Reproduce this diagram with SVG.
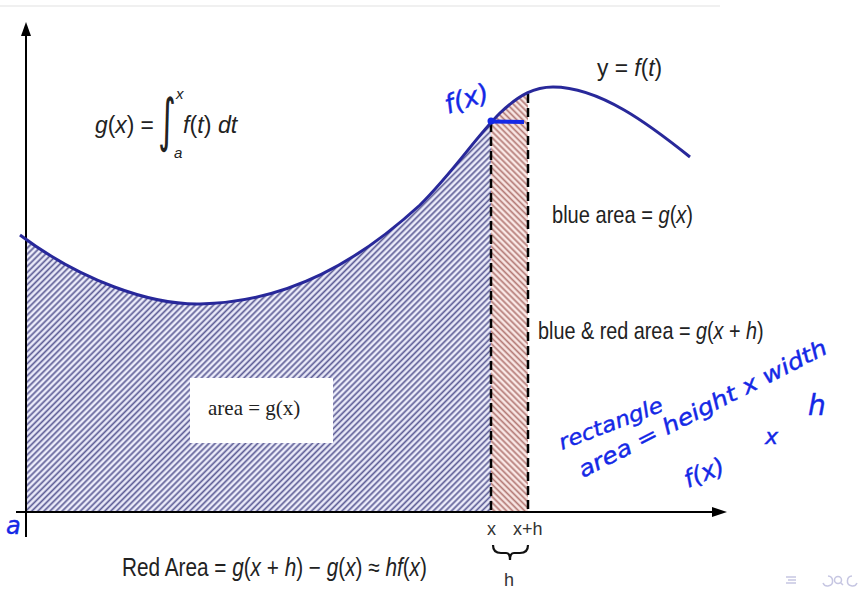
<svg xmlns="http://www.w3.org/2000/svg" width="868" height="589" viewBox="0 0 868 589">
<style>
.m{font-family:"Liberation Sans",Arial,sans-serif;fill:#222}
.i{font-style:italic}
.hw{font-family:"DejaVu Sans","Liberation Sans",sans-serif;font-style:italic;fill:#1428e6;stroke:#1428e6;stroke-width:0.4}
.ax{stroke:#000;stroke-width:2;fill:none}
.dash{stroke:#000;stroke-width:2.5;stroke-dasharray:9 5;fill:none}
.nav{stroke:#c6c6e2;stroke-width:1.5;fill:none}
</style>
<defs>
<pattern id="hb" width="4.3" height="10" patternUnits="userSpaceOnUse" patternTransform="rotate(45)">
<rect width="4.3" height="10" fill="#ececfa"/>
<line x1="1.2" y1="0" x2="1.2" y2="10" stroke="#5e5e96" stroke-width="1.7"/>
</pattern>
<pattern id="hr" width="4.3" height="10" patternUnits="userSpaceOnUse" patternTransform="rotate(-45)">
<rect width="4.3" height="10" fill="#f9e8e6"/>
<line x1="1.2" y1="0" x2="1.2" y2="10" stroke="#b47a76" stroke-width="1.7"/>
</pattern>
<clipPath id="under">
<path d="M20,235 C80,280 150,305 200,304 C290,302 360,260 420,205 C455,170 475,138 500,113 C520,94 535,87 553,87 C600,87 650,125 690,157 L690,512 L20,512 Z"/>
</clipPath>
</defs>
<rect width="868" height="589" fill="#fff"/>
<line x1="0" y1="6" x2="720" y2="6" stroke="#f0f0f0" stroke-width="2"/>

<g id="areas" clip-path="url(#under)">
<rect x="26" y="60" width="465" height="452" fill="url(#hb)"/>
<rect x="491" y="60" width="37" height="452" fill="url(#hr)"/>
</g>

<g id="area-label">
<rect x="190" y="378" width="143" height="65" fill="#fff"/>
<text x="208" y="415" font-family="Liberation Serif,Times New Roman,serif" font-size="21" fill="#222">area = g(x)</text>
</g>

<g id="connectors">
<line class="ax" x1="26" y1="537" x2="26" y2="34"/>
<path d="M26,22 L21,36 L31,36 Z" fill="#000"/>
<line class="ax" x1="16" y1="512" x2="714" y2="512"/>
<path d="M727,512 L712,507 L712,517 Z" fill="#000"/>
<line class="dash" x1="491" y1="123" x2="491" y2="512"/>
<line class="dash" x1="528" y1="94" x2="528" y2="512"/>
<path id="curve" d="M20,235 C80,280 150,305 200,304 C290,302 360,260 420,205 C455,170 475,138 500,113 C520,94 535,87 553,87 C600,87 650,125 690,157" fill="none" stroke="#28289a" stroke-width="3"/>
<path d="M493,545 Q493,553 501,553 L506,553 Q510,553 510,560 Q510,553 514,553 L520,553 Q528,553 528,545" fill="none" stroke="#111" stroke-width="2.2"/>
</g>

<g id="formula" class="m" font-size="24">
<text transform="translate(95,133) scale(0.95,1)"><tspan class="i">g</tspan>(<tspan class="i">x</tspan>) =</text>
<text x="0" y="0" font-family="DejaVu Sans,sans-serif" font-size="40" transform="translate(158,140) scale(0.85,1.45)" fill="#222">∫</text>
<text x="176" y="99" font-size="15" class="i">x</text>
<text x="174" y="158" font-size="15" class="i">a</text>
<text transform="translate(183,133) scale(0.97,1)"><tspan class="i">f</tspan>(<tspan class="i">t</tspan>) <tspan class="i">dt</tspan></text>
</g>

<g id="labels" class="m" font-size="24">
<text transform="translate(597,76) scale(0.95,1)">y = <tspan class="i">f</tspan>(<tspan class="i">t</tspan>)</text>
<text transform="translate(552,223) scale(0.836,1)">blue area = <tspan class="i">g</tspan>(<tspan class="i">x</tspan>)</text>
<text transform="translate(538,339) scale(0.825,1)">blue &amp; red area = <tspan class="i">g</tspan>(<tspan class="i">x</tspan> + <tspan class="i">h</tspan>)</text>
<text transform="translate(122,576) scale(0.83,1)" font-size="25">Red Area = <tspan class="i">g</tspan>(<tspan class="i">x</tspan> + <tspan class="i">h</tspan>) − <tspan class="i">g</tspan>(<tspan class="i">x</tspan>) ≈ <tspan class="i">hf</tspan>(<tspan class="i">x</tspan>)</text>
<text x="487" y="535" font-size="18" fill="#333">x</text>
<text x="513" y="535" font-size="18" fill="#333">x+h</text>
<text x="504" y="586" font-size="18" fill="#333">h</text>
</g>

<g id="handwriting">
<circle cx="491" cy="121" r="3.5" fill="#1428e6"/>
<line x1="491" y1="121.5" x2="524" y2="122" stroke="#1428e6" stroke-width="4"/>
<text class="hw" font-size="26" transform="translate(448,114) rotate(-18)">f(x)</text>
<text class="hw" font-size="24" x="6" y="534">a</text>
<text class="hw" font-size="21" transform="translate(562,450) rotate(-21)" textLength="110" lengthAdjust="spacingAndGlyphs">rectangle</text>
<text class="hw" font-size="22" transform="translate(583,478) rotate(-27)" textLength="276" lengthAdjust="spacingAndGlyphs">area = height x width</text>
<text class="hw" font-size="24" transform="translate(688,488) rotate(-22)">f(x)</text>
<text class="hw" font-size="22" x="765" y="444">x</text>
<text class="hw" font-size="28" x="808" y="415">h</text>
</g>

<g id="nav">
<line class="nav" x1="786" y1="577" x2="796" y2="577"/>
<line class="nav" x1="788" y1="580" x2="796" y2="580"/>
<line class="nav" x1="786" y1="583" x2="796" y2="583"/>
<path class="nav" d="M828,576 A5,5 0 1 1 823,583"/>
<circle class="nav" cx="838" cy="580" r="3.5"/>
<line class="nav" x1="840.5" y1="582.5" x2="843" y2="585"/>
<path class="nav" d="M852,576 A5,5 0 1 0 857,583"/>
</g>
</svg>
